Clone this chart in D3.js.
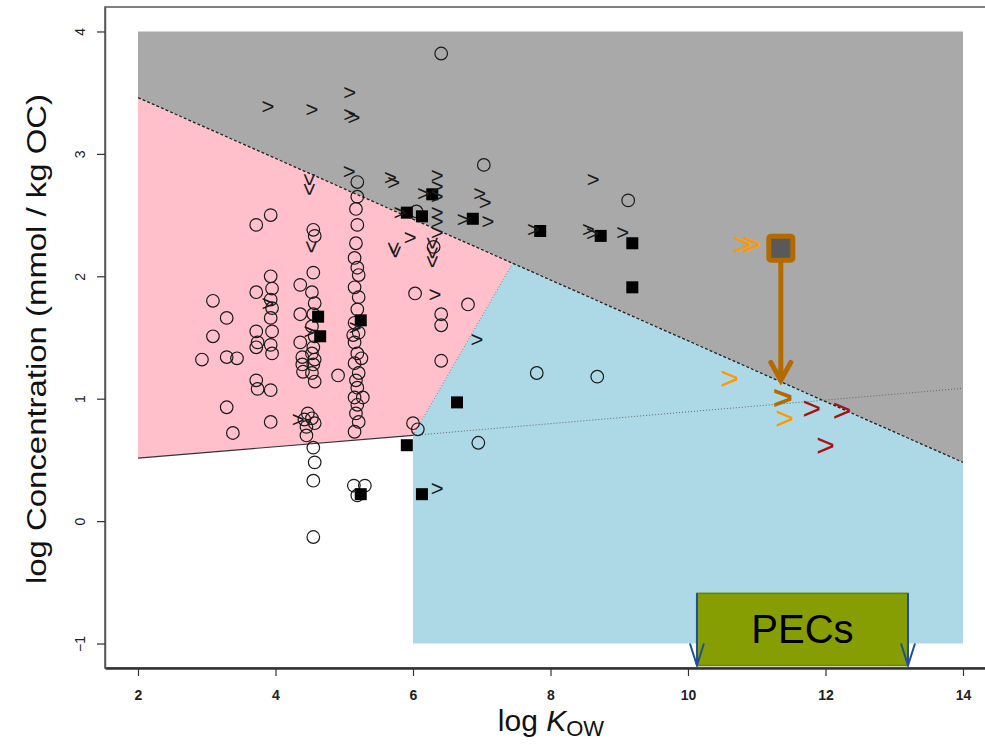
<!DOCTYPE html>
<html>
<head>
<meta charset="utf-8">
<script src="https://cdn.jsdelivr.net/npm/d3@7"></script>
<style>
body { margin: 0; background: #fff; }
text { font-family: "Liberation Sans", Arial, sans-serif; }
</style>
</head>
<body>
<div id="chart"></div>
<script>
// zone outlines (log Kow, log conc)
const grayZone = [[2, 4], [14, 4], [14, 0.48], [2, 3.46]];
const pinkZone = [[2, 3.46], [7.45, 2.107], [6, 0.70], [2, 0.515]];
const blueZone = [[6, -1], [14, -1], [14, 0.48], [7.45, 2.107], [6, 0.70]];
const upperLine = [[2, 3.46], [14, 0.48]];
const lowerLine = [[2, 0.515], [6, 0.70]];
const lowerLineExt = [[6, 0.70], [14, 1.085]];
const splitLine = [[6, 0.70], [7.45, 2.107]];

// measured data
const openCircles = [
  [5.19,2.77],[5.19,2.65],[5.17,2.55],[5.19,2.42],[5.17,2.27],[5.15,2.15],[5.19,2.07],[5.21,2.01],
  [5.15,1.91],[5.21,1.83],[5.19,1.73],[5.15,1.62],[5.21,1.54],[5.15,1.46],[5.19,1.37],[5.15,1.29],
  [5.21,1.21],[5.17,1.15],[5.19,1.09],[5.15,1.01],[5.19,0.95],[5.17,0.88],[5.21,0.81],[5.15,0.73],
  [5.27,1.01],[5.25,1.33],[5.13,1.52],
  [5.14,0.29],[5.30,0.29],[5.19,0.21],
  [4.55,2.38],[4.57,2.33],[4.55,2.03],[4.53,1.87],[4.57,1.78],[4.55,1.69],[4.53,1.59],[4.57,1.51],
  [4.55,1.42],[4.53,1.37],[4.57,1.32],[4.55,1.28],[4.53,1.21],[4.57,1.14],[4.53,0.84],[4.57,0.80],
  [4.55,0.60],[4.57,0.48],[4.55,0.33],[4.55,-0.13],
  [3.93,2.50],[3.93,2.00],[3.95,1.90],[3.93,1.81],[3.95,1.74],[3.93,1.66],[3.95,1.55],[3.93,1.44],
  [3.95,1.37],[3.93,1.07],[3.93,0.81],
  [3.72,2.42],[3.72,1.87],[3.72,1.55],[3.74,1.46],[3.72,1.42],[3.72,1.15],[3.74,1.08],
  [3.09,1.80],[3.09,1.51],[3.29,1.66],[3.29,1.34],[3.29,0.93],[3.44,1.33],[2.93,1.32],[3.38,0.72],
  [4.36,1.93],[4.36,1.69],[4.36,1.46],[4.39,1.34],[4.39,1.28],[4.40,1.22],[4.47,0.88],[4.42,0.83],
  [4.45,0.77],[4.45,0.70],[4.91,1.19],
  [6.41,1.69],[6.41,1.60],[6.41,1.31],[6.41,3.82],[6.03,1.86],[6.05,2.53],[6.80,1.77],[6.00,0.80],
  [6.07,0.75],[6.95,0.64],[7.80,1.21],[8.68,1.18],[7.03,2.91],[9.13,2.62],[6.30,2.24]
];
const filledSquares = [
  [6.28,2.67],[5.91,2.52],[6.13,2.49],[6.87,2.47],[7.85,2.37],[8.73,2.33],[9.19,2.27],[9.19,1.91],
  [4.62,1.67],[4.65,1.51],[5.24,1.64],[6.64,0.97],[5.91,0.62],[6.13,0.22],[5.24,0.22]
];
const gtMarks = [
  [3.89,3.39],[4.53,3.36],[5.08,3.50],[5.08,3.32],[5.14,3.30],[5.07,2.86],[5.67,2.81],[5.72,2.77],
  [5.96,2.32],[6.35,2.82],[6.35,2.73],[6.35,2.65],[6.15,2.68],[6.97,2.68],[7.05,2.60],[5.81,2.52],
  [6.35,2.52],[6.35,2.45],[6.35,2.36],[6.73,2.46],[7.09,2.45],[6.32,1.85],[6.93,1.48],[6.35,0.27],
  [8.62,2.79],[7.75,2.38],[8.55,2.38],[8.61,2.35],[9.05,2.36],[3.89,1.78],[4.50,1.55],[5.16,1.58],
  [4.33,0.83]
];
const downMarks = [
  [4.50,2.79],[4.50,2.71],[4.53,2.24],[5.71,2.23],[5.74,2.20],[6.29,2.27],[6.29,2.19],[6.29,2.12]
];
const orangeMarks = [[10.79,2.26],[10.93,2.26],[10.61,1.17],[11.41,0.84]];
const brownMarks = [[11.38,1.01]];
const redMarks = [[11.80,0.92],[12.24,0.91],[12.00,0.62]];
const focusPoint = [11.35, 2.23];
const focusArrowEnd = 1.15;
const pecRange = [10.13, 13.2];
const pecConc = [-0.59, -1.18];
const xTicks = [2, 4, 6, 8, 10, 12, 14];
const yTicks = [-1, 0, 1, 2, 3, 4];

var width = 985, height = 745;

var svg = d3.select("#chart").append("svg")
  .attr("width", width)
  .attr("height", height);

// R-style 4% padding around the data range
var x = d3.scaleLinear().domain([1.52, 14.48]).range([105, 996]);
var y = d3.scaleLinear().domain([-1.2, 4.2]).range([668, 7]);

var line = d3.line().x(d => x(d[0])).y(d => y(d[1]));
var poly = pts => line(pts) + "Z";

// Zones
svg.append("path").attr("d", poly(grayZone)).attr("fill", "#a9a9a9");
svg.append("path").attr("d", poly(pinkZone)).attr("fill", "#ffc0cb");
svg.append("path").attr("d", poly(blueZone)).attr("fill", "#add8e6");

// Boundary lines
svg.append("path").attr("d", line(upperLine))
  .attr("stroke", "#222").attr("stroke-width", 1.3).attr("stroke-dasharray", "3,2").attr("fill", "none");
svg.append("path").attr("d", line(splitLine))
  .attr("stroke", "#777").attr("stroke-width", 1).attr("stroke-dasharray", "1,2").attr("fill", "none");
svg.append("path").attr("d", line(lowerLine))
  .attr("stroke", "#333").attr("stroke-width", 1.2).attr("fill", "none");
svg.append("path").attr("d", line(lowerLineExt))
  .attr("stroke", "#666").attr("stroke-width", 1).attr("stroke-dasharray", "1,2").attr("fill", "none");

// Frame
svg.append("rect")
  .attr("x", 105).attr("y", 7).attr("width", 891).attr("height", 661)
  .attr("fill", "none").attr("stroke", "#555").attr("stroke-width", 1.5);

// Axes
var xAxis = svg.append("g")
  .attr("transform", "translate(0,668)")
  .call(d3.axisBottom(x).tickValues(xTicks).tickSize(8).tickSizeOuter(0).tickPadding(14)
    .tickFormat(d3.format("d")));
xAxis.select(".domain").attr("stroke", "#333").attr("stroke-width", 2.5);
xAxis.selectAll(".tick line").attr("stroke", "#333").attr("stroke-width", 1.2);
xAxis.selectAll(".tick text")
  .style("font-family", "'Liberation Sans Narrow', 'Liberation Sans', Arial, sans-serif")
  .style("font-weight", "bold").style("font-size", "14px").attr("fill", "#222");

var yAxis = svg.append("g")
  .attr("transform", "translate(105,0)")
  .call(d3.axisLeft(y).tickValues(yTicks).tickSize(8).tickSizeOuter(0)
    .tickFormat(d3.format("d")));
yAxis.select(".domain").attr("stroke", "#555").attr("stroke-width", 1.5);
yAxis.selectAll(".tick line").attr("stroke", "#333").attr("stroke-width", 1.2);
yAxis.selectAll(".tick text")
  .attr("x", null).attr("dy", null)
  .attr("text-anchor", "middle")
  .attr("transform", "translate(-20,0) rotate(-90)")
  .style("font-size", "14px").attr("fill", "#222");

// Axis titles
svg.append("text")
  .attr("transform", "translate(46,339) rotate(-90)")
  .attr("text-anchor", "middle")
  .attr("textLength", 490).attr("lengthAdjust", "spacingAndGlyphs")
  .style("font-size", "27px").attr("fill", "#111")
  .text("log Concentration (mmol / kg OC)");

var xt = svg.append("text")
  .attr("x", 551).attr("y", 731)
  .attr("text-anchor", "middle")
  .style("font-size", "30px").attr("fill", "#111");
xt.append("tspan").text("log ");
xt.append("tspan").style("font-style", "italic").text("K");
xt.append("tspan").attr("dy", 5).style("font-size", "22px").text("OW");

// Data points
svg.append("g").selectAll("circle")
  .data(openCircles).enter().append("circle")
  .attr("cx", d => x(d[0])).attr("cy", d => y(d[1])).attr("r", 6.3)
  .attr("fill", "none").attr("stroke", "#1a1a1a").attr("stroke-width", 1.2);

svg.append("g").selectAll("rect")
  .data(filledSquares).enter().append("rect")
  .attr("x", d => x(d[0]) - 6).attr("y", d => y(d[1]) - 6)
  .attr("width", 12).attr("height", 12).attr("fill", "#000");

svg.append("g").selectAll("text")
  .data(gtMarks).enter().append("text")
  .attr("x", d => x(d[0])).attr("y", d => y(d[1]))
  .attr("text-anchor", "middle").attr("dominant-baseline", "central")
  .style("font-size", "22px").attr("fill", "#1a1a1a").text(">");

svg.append("g").selectAll("text")
  .data(downMarks).enter().append("text")
  .attr("transform", d => "translate(" + x(d[0]) + "," + y(d[1]) + ") rotate(90)")
  .attr("text-anchor", "middle").attr("dominant-baseline", "central")
  .style("font-size", "22px").attr("fill", "#1a1a1a").text(">");

// Highlighted measurements
svg.append("g").selectAll("text")
  .data(orangeMarks).enter().append("text")
  .attr("x", d => x(d[0])).attr("y", d => y(d[1]))
  .attr("text-anchor", "middle").attr("dominant-baseline", "central")
  .style("font-size", "32px").attr("fill", "#ff9900").text(">");

svg.append("g").selectAll("text")
  .data(redMarks).enter().append("text")
  .attr("x", d => x(d[0])).attr("y", d => y(d[1]))
  .attr("text-anchor", "middle").attr("dominant-baseline", "central")
  .style("font-size", "32px").attr("fill", "#a31515").text(">");

svg.append("g").selectAll("text")
  .data(brownMarks).enter().append("text")
  .attr("x", d => x(d[0])).attr("y", d => y(d[1]))
  .attr("text-anchor", "middle").attr("dominant-baseline", "central")
  .style("font-size", "34px").style("font-weight", "bold").attr("fill", "#b36b00").text(">");

// Focus point with arrow down to the line
var fx = x(focusPoint[0]), fy = y(focusPoint[1]), fEnd = y(focusArrowEnd);
svg.append("line")
  .attr("x1", fx).attr("x2", fx).attr("y1", fy + 13).attr("y2", fEnd - 2)
  .attr("stroke", "#b36b00").attr("stroke-width", 5);
svg.append("polyline")
  .attr("points", [[fx - 10, fEnd - 18], [fx, fEnd], [fx + 10, fEnd - 18]].join(" "))
  .attr("fill", "none").attr("stroke", "#b36b00").attr("stroke-width", 5).attr("stroke-linecap", "round");
svg.append("rect")
  .attr("x", fx - 12).attr("y", fy - 12).attr("width", 24).attr("height", 24).attr("rx", 2)
  .attr("fill", "#595959").attr("stroke", "#b36b00").attr("stroke-width", 5);

// PEC range box
var px0 = x(pecRange[0]), px1 = x(pecRange[1]);
var py0 = y(pecConc[0]), py1 = y(pecConc[1]);
svg.append("rect")
  .attr("x", px0).attr("y", py0).attr("width", px1 - px0).attr("height", py1 - py0)
  .attr("fill", "#879e03").attr("stroke", "#6d8000").attr("stroke-width", 1.5);
svg.append("text")
  .attr("x", (px0 + px1) / 2).attr("y", (py0 + py1) / 2 + 14)
  .attr("text-anchor", "middle")
  .style("font-size", "40px").attr("fill", "#000").text("PECs");

[px0, px1].forEach(function (xx) {
  svg.append("line")
    .attr("x1", xx).attr("x2", xx).attr("y1", py0).attr("y2", py1)
    .attr("stroke", "#1f4e9c").attr("stroke-width", 2);
  svg.append("polyline")
    .attr("points", [[xx - 7, py1 - 22], [xx, py1], [xx + 7, py1 - 22]].join(" "))
    .attr("fill", "none").attr("stroke", "#1f4e9c").attr("stroke-width", 2);
});
</script>
</body>
</html>
